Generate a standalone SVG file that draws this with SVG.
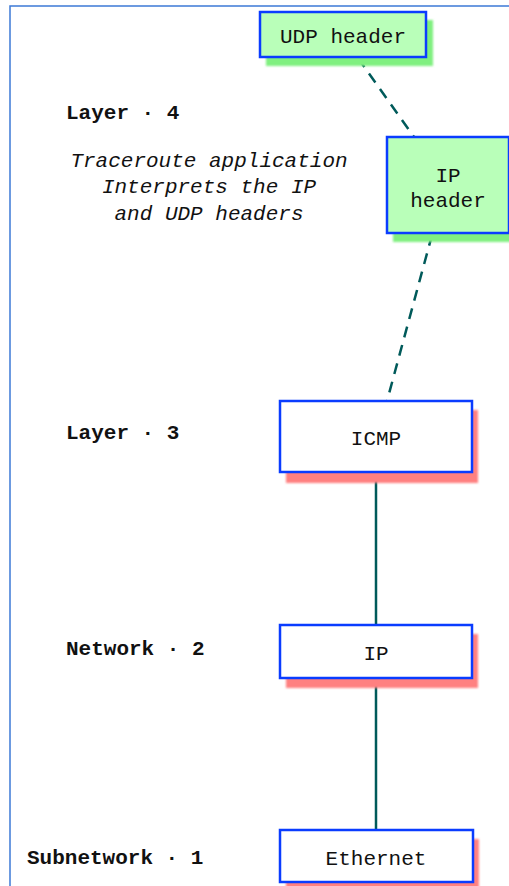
<svg xmlns="http://www.w3.org/2000/svg" width="509" height="886" viewBox="0 0 509 886">
<defs>
<filter id="blur" x="-10%" y="-10%" width="120%" height="130%"><feGaussianBlur stdDeviation="1"/></filter>
<style>
.box{stroke:#0a3cff;stroke-width:2.5}
.green{fill:#b9ffb9}
.white{fill:#ffffff}
.gsh{fill:#80f080}
.rsh{fill:#ff8080}
.lbl{font-family:"Liberation Mono","Courier New",monospace;font-size:21px;fill:#111}
.lay{font-family:"Liberation Mono","Courier New",monospace;font-size:21px;font-weight:bold;fill:#111}
.it{font-family:"Liberation Mono","Courier New",monospace;font-size:21px;font-style:italic;fill:#111;text-anchor:middle}
.c{text-anchor:middle}
.conn{stroke:#005a5a;stroke-width:2.5;fill:none}
.dash{stroke-dasharray:11,8}
</style>
</defs>
<rect x="0" y="0" width="509" height="886" fill="#ffffff"/>
<rect x="10" y="6" width="530" height="900" fill="none" stroke="#3d7ad6" stroke-width="1.5"/>

<g id="labels">
<text class="lay" x="66" y="119">Layer · 4</text>
<text class="it" x="209" y="167">Traceroute application</text>
<text class="it" x="209" y="193">Interprets the IP</text>
<text class="it" x="209" y="220">and UDP headers</text>
<text class="lay" x="66" y="439">Layer · 3</text>
<text class="lay" x="66" y="655">Network · 2</text>
<text class="lay" x="27" y="864">Subnetwork · 1</text>
</g>

<g id="connectors">
<line class="conn dash" x1="358" y1="58" x2="414" y2="137"/>
<line class="conn dash" x1="432" y1="235" x2="387" y2="401"/>
<line class="conn" x1="376" y1="473" x2="376" y2="624"/>
<line class="conn" x1="376" y1="679" x2="376" y2="830"/>
</g>

<g id="udp-header">
<rect class="gsh" x="266" y="20" width="167" height="46" filter="url(#blur)"/>
<rect class="box green" x="260" y="12" width="166" height="45"/>
<text class="lbl c" x="343" y="43">UDP header</text>
</g>

<g id="ip-header">
<rect class="gsh" x="393" y="145" width="122" height="97" filter="url(#blur)"/>
<rect class="box green" x="387" y="137" width="122" height="96"/>
<text class="lbl c" x="448" y="182">IP</text>
<text class="lbl c" x="448" y="207">header</text>
</g>

<g id="icmp">
<rect class="rsh" x="286" y="410" width="192" height="73" filter="url(#blur)"/>
<rect class="box white" x="280" y="401" width="192" height="71"/>
<text class="lbl c" x="376" y="445">ICMP</text>
</g>

<g id="ip">
<rect class="rsh" x="286" y="634" width="192" height="54" filter="url(#blur)"/>
<rect class="box white" x="280" y="625" width="192" height="53"/>
<text class="lbl c" x="376" y="660">IP</text>
</g>

<g id="ethernet">
<rect class="rsh" x="286" y="839" width="193" height="53" filter="url(#blur)"/>
<rect class="box white" x="280" y="830" width="193" height="52"/>
<text class="lbl c" x="376" y="865">Ethernet</text>
</g>
</svg>
